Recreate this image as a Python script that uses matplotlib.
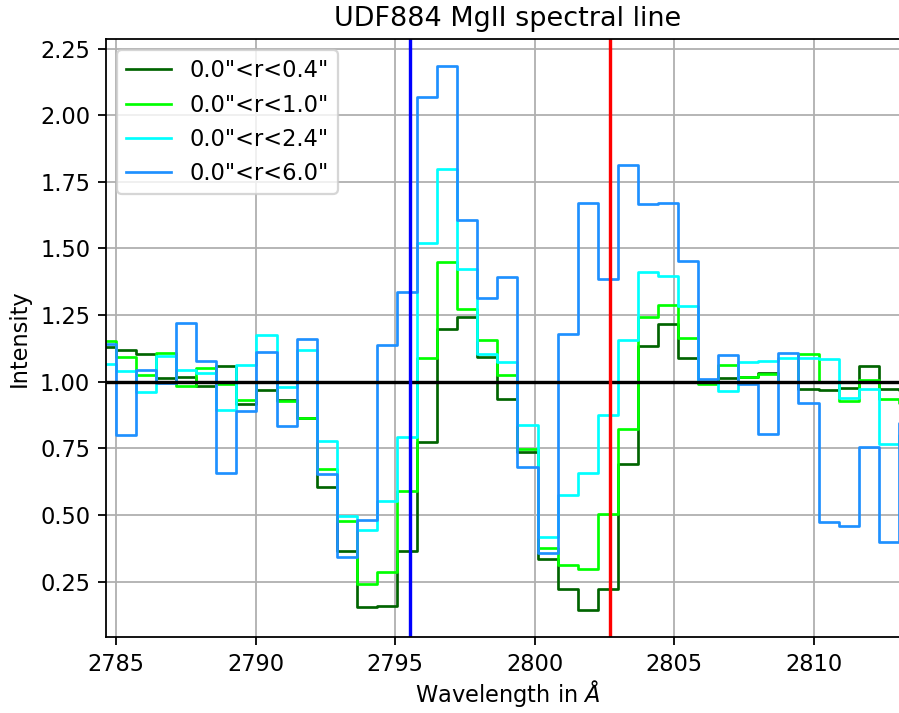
import matplotlib
matplotlib.use("Agg")
import matplotlib.pyplot as plt

# Rest-frame wavelength grid (bin centres, Angstrom)
wavelength = [2784.64, 2785.36, 2786.08, 2786.80, 2787.52, 2788.24, 2788.95, 2789.67,
              2790.39, 2791.11, 2791.83, 2792.55, 2793.27, 2793.99, 2794.71, 2795.43,
              2796.15, 2796.87, 2797.58, 2798.30, 2799.02, 2799.74, 2800.46, 2801.18,
              2801.90, 2802.62, 2803.34, 2804.06, 2804.78, 2805.50, 2806.22, 2806.93,
              2807.65, 2808.37, 2809.09, 2809.81, 2810.53, 2811.25, 2811.97, 2812.69,
              2813.41]

flux_r04 = [1.129, 1.120, 1.104, 1.013, 1.016, 0.983, 1.059, 0.918, 0.969, 0.931,
            0.863, 0.606, 0.366, 0.156, 0.160, 0.364, 0.775, 1.198, 1.241, 1.094,
            0.934, 0.738, 0.334, 0.221, 0.144, 0.221, 0.690, 1.135, 1.216, 1.090,
            1.000, 1.013, 1.016, 1.031, 1.000, 0.971, 0.968, 0.978, 1.059, 0.973,
            0.970]

flux_r10 = [1.153, 1.094, 1.026, 1.109, 0.985, 1.053, 0.990, 0.931, 1.000, 0.928,
            0.863, 0.673, 0.479, 0.241, 0.285, 0.590, 1.089, 1.448, 1.274, 1.155,
            1.025, 0.748, 0.375, 0.311, 0.296, 0.504, 0.823, 1.244, 1.288, 1.163,
            0.990, 1.063, 1.016, 1.028, 1.000, 1.103, 1.000, 0.928, 1.006, 0.935,
            0.920]

flux_r24 = [1.066, 1.040, 0.960, 1.097, 1.045, 1.034, 0.893, 1.064, 1.175, 0.979,
            1.118, 0.778, 0.498, 0.444, 0.551, 0.791, 1.519, 1.800, 1.424, 1.104,
            1.075, 0.836, 0.418, 0.575, 0.659, 0.875, 1.155, 1.413, 1.396, 1.284,
            1.000, 0.965, 1.075, 1.079, 1.090, 1.088, 1.084, 0.940, 0.971, 0.765,
            0.800]

flux_r60 = [1.140, 0.800, 1.045, 0.995, 1.220, 1.077, 0.656, 0.890, 1.113, 0.834,
            1.160, 0.652, 0.344, 0.480, 1.138, 1.335, 2.069, 2.185, 1.606, 1.315,
            1.394, 0.679, 0.359, 1.180, 1.672, 1.384, 1.812, 1.665, 1.672, 1.454,
            1.012, 1.102, 0.990, 0.804, 1.106, 0.922, 0.472, 0.460, 0.756, 0.400,
            0.845]

labels = ['0.0"<r<0.4"', '0.0"<r<1.0"', '0.0"<r<2.4"', '0.0"<r<6.0"']
colors = ['darkgreen', 'lime', 'cyan', 'dodgerblue']
series = [flux_r04, flux_r10, flux_r24, flux_r60]

line_blue = 2795.54
line_red = 2802.70

DPI = 162
fig = plt.figure(figsize=(899.01 / DPI, 713.01 / DPI), dpi=DPI)
ax = fig.add_axes([106 / 899, (713 - 637.3) / 713, 803 / 899, 598.3 / 713])

for vals, c, lab in zip(series, colors, labels):
    ax.step(wavelength, vals, where='mid', color=c, lw=1.2, label=lab)

ax.axhline(1.0, color='black', lw=1.5)
ax.axvline(line_blue, color='blue', lw=1.5)
ax.axvline(line_red, color='red', lw=1.5)

ax.set_xlim(wavelength[0], wavelength[-1])
ax.set_ylim(0.041, 2.286)
ax.grid(True)
ax.set_axisbelow(True)
ax.set_title('UDF884 MgII spectral line')
ax.set_xlabel(r'Wavelength in $\AA$', labelpad=1)
ax.set_ylabel('Intensity')
ax.legend(loc='upper left')

fig.savefig('out.png', dpi=DPI)
